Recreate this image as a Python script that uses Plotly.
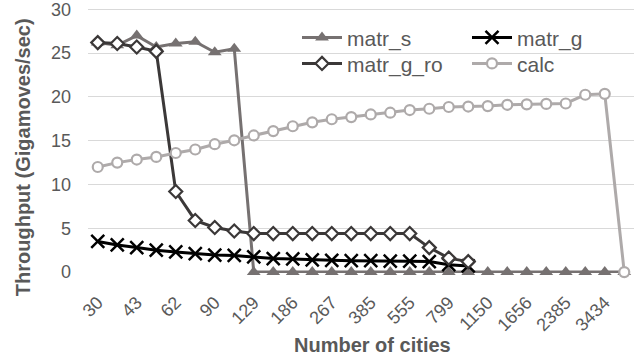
import plotly.graph_objects as go

categories = ["30", "36", "43", "52", "62", "75", "90", "108", "129", "155",
              "186", "223", "267", "321", "385", "462", "555", "666", "799", "959",
              "1150", "1380", "1656", "1987", "2385", "2862", "3434", "4121"]
tick_labels = categories[::2]

matr_s = [26.2, 25.9, 27.0, 25.7, 26.1, 26.3, 25.1, 25.5,
          0, 0, 0, 0, 0, 0, 0, 0, 0, 0, 0, 0, 0, 0, 0, 0, 0, 0, 0, 0]
matr_g = [3.5, 3.1, 2.8, 2.5, 2.3, 2.1, 1.95, 1.9, 1.75, 1.55,
          1.5, 1.4, 1.35, 1.3, 1.3, 1.25, 1.25, 1.2, 0.85, 0.7]
matr_g_ro = [26.2, 26.1, 25.7, 25.2, 9.2, 5.9, 5.1, 4.7, 4.4, 4.4,
             4.4, 4.4, 4.4, 4.4, 4.4, 4.4, 4.4, 2.8, 1.6, 1.2]
calc = [12.0, 12.5, 12.85, 13.15, 13.6, 14.0, 14.6, 15.05, 15.6, 16.1,
        16.65, 17.1, 17.45, 17.7, 18.0, 18.2, 18.5, 18.65, 18.85, 18.9,
        18.95, 19.1, 19.15, 19.2, 19.25, 20.25, 20.35, 0]

FONT = "Liberation Sans"
TXT = "#595959"

W, H = 634, 358
M_L, M_R, M_T, M_B = 88, 0, 7.7, 85.1
PW = W - M_L - M_R
PH = H - M_T - M_B


def px_x(p):
    return (p - M_L) / PW


def px_y(p):
    return 1 - (p - M_T) / PH


fig = go.Figure()
fig.add_trace(go.Scatter(
    x=categories[:len(matr_s)], y=matr_s, name="matr_s", mode="lines+markers",
    line=dict(color="#767171", width=3),
    marker=dict(symbol="triangle-up", size=12, color="#767171"),
    legend="legend"))
fig.add_trace(go.Scatter(
    x=categories[:len(matr_g)], y=matr_g, name="matr_g", mode="lines+markers",
    line=dict(color="#000000", width=3),
    marker=dict(symbol="x-thin", size=13, color="#000000",
                line=dict(color="#000000", width=2.5)),
    legend="legend2"))
fig.add_trace(go.Scatter(
    x=categories[:len(matr_g_ro)], y=matr_g_ro, name="matr_g_ro", mode="lines+markers",
    line=dict(color="#3b3838", width=3),
    marker=dict(symbol="diamond", size=10, color="#ffffff",
                line=dict(color="#3b3838", width=2.2)),
    legend="legend3"))
fig.add_trace(go.Scatter(
    x=categories[:len(calc)], y=calc, name="calc", mode="lines+markers",
    line=dict(color="#aeaaaa", width=3),
    marker=dict(symbol="circle", size=10, color="#ffffff",
                line=dict(color="#aeaaaa", width=2.2)),
    legend="legend4"))

legend_common = dict(font=dict(family=FONT, size=21, color=TXT),
                     bgcolor="rgba(0,0,0,0)", borderwidth=0,
                     xanchor="left", yanchor="top", itemwidth=40)

x_left = px_x(297)
x_right = px_x(467)
y_top = px_y(17)
y_bot = px_y(43)

fig.update_layout(
    width=W, height=H,
    margin=dict(l=M_L, r=M_R, t=M_T, b=M_B),
    paper_bgcolor="white", plot_bgcolor="white",
    font=dict(family=FONT, color=TXT),
    showlegend=True,
    legend=dict(x=x_left, y=y_top, **legend_common),
    legend2=dict(x=x_right, y=y_top, **legend_common),
    legend3=dict(x=x_left, y=y_bot, **legend_common),
    legend4=dict(x=x_right, y=y_bot, **legend_common),
    xaxis=dict(type="category", categoryorder="array", categoryarray=categories,
               range=[-0.5, len(categories) - 0.5],
               tickmode="array", tickvals=tick_labels, ticktext=tick_labels,
               tickangle=-45, tickfont=dict(family=FONT, size=18, color=TXT),
               showgrid=False, zeroline=False, showline=False,
               ticks="outside", ticklen=11, tickcolor="rgba(0,0,0,0)"),
    yaxis=dict(range=[-0.1, 30.15], dtick=5, tick0=0,
               tickfont=dict(family=FONT, size=18, color=TXT),
               gridcolor="#d9d9d9", gridwidth=1, zeroline=False, showline=False,
               ticks="", ticklabelstandoff=16, ticklabeloverflow="allow"),
    annotations=[
        dict(text="<b>Throughput (Gigamoves/sec)</b>", xref="paper", yref="paper",
             x=px_x(23), y=px_y(157), textangle=-90,
             showarrow=False, font=dict(family=FONT, size=20, color=TXT),
             xanchor="center", yanchor="middle"),
        dict(text="<b>Number of cities</b>", xref="paper", yref="paper",
             x=px_x(372), y=px_y(345),
             showarrow=False, font=dict(family=FONT, size=20, color=TXT),
             xanchor="center", yanchor="middle"),
    ],
)
fig.update_traces(cliponaxis=False)

fig.write_html("out.html")
